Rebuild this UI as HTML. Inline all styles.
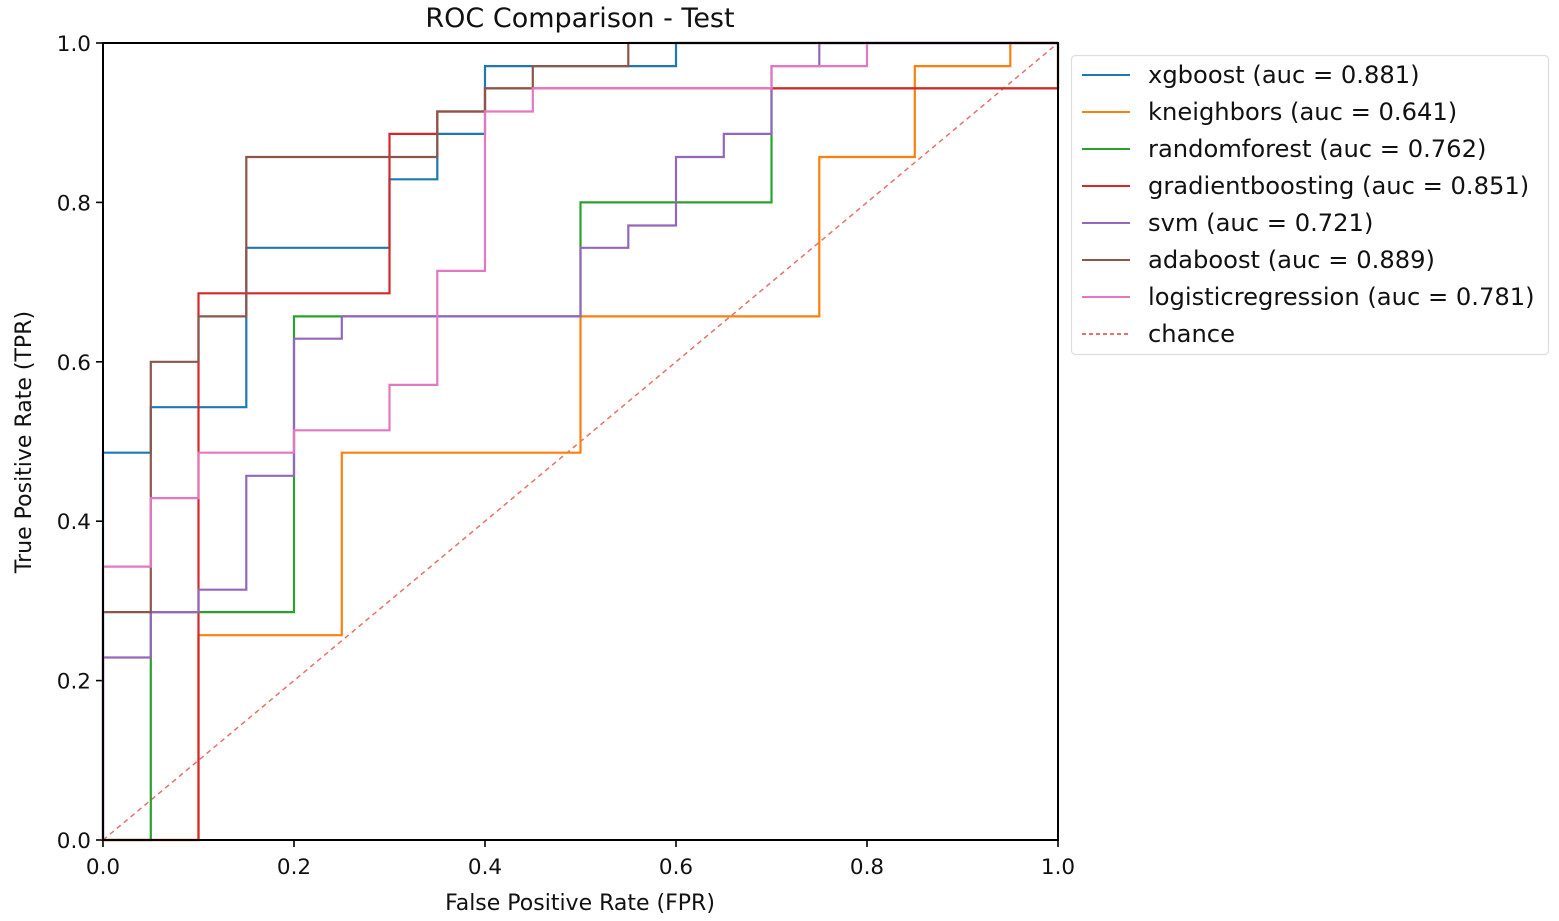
<!DOCTYPE html>
<html><head><meta charset="utf-8"><style>
html,body{margin:0;padding:0;background:#fff;}
svg{display:block;font-family:"DejaVu Sans","Liberation Sans",sans-serif;}
</style></head><body>
<svg id="chart" width="1559" height="921" viewBox="0 0 1559 921" xmlns="http://www.w3.org/2000/svg">
<text x="580" y="27" font-size="27" text-anchor="middle" fill="#111">ROC Comparison - Test</text>
<text x="580" y="910" font-size="22" text-anchor="middle" fill="#111">False Positive Rate (FPR)</text>
<text x="0" y="0" font-size="22" text-anchor="middle" fill="#111" transform="translate(31,442) rotate(-90)">True Positive Rate (TPR)</text>
<g id="plot"></g>
<g id="legend"></g>
</svg>
<script>
const seriesNames = ["xgboost","kneighbors","randomforest","gradientboosting","svm","adaboost","logisticregression"];
const seriesAuc = ["0.881","0.641","0.762","0.851","0.721","0.889","0.781"];
const seriesColors = ["#1f77b4","#ff7f0e","#2ca02c","#d62728","#9467bd","#8c564b","#e377c2"];
const xTicks = [0,0.2,0.4,0.6,0.8,1.0];
const yTicks = [0,0.2,0.4,0.6,0.8,1.0];
const xgbFpr = [0,0,0.05,0.05,0.15,0.15,0.3,0.3,0.35,0.35,0.4,0.4,0.6,0.6,1];
const xgbTpr = [0,0.486,0.486,0.543,0.543,0.743,0.743,0.829,0.829,0.886,0.886,0.971,0.971,1,1];
const knnFpr = [0,0.1,0.1,0.25,0.25,0.5,0.5,0.75,0.75,0.85,0.85,0.95,0.95,1];
const knnTpr = [0,0,0.257,0.257,0.486,0.486,0.657,0.657,0.857,0.857,0.971,0.971,1,1];
const rfFpr = [0,0.05,0.05,0.2,0.2,0.5,0.5,0.7,0.7,1,1];
const rfTpr = [0,0,0.286,0.286,0.657,0.657,0.8,0.8,0.943,0.943,1];
const gbFpr = [0,0.1,0.1,0.3,0.3,0.35,0.35,0.4,0.4,1,1];
const gbTpr = [0,0,0.686,0.686,0.886,0.886,0.914,0.914,0.943,0.943,1];
const svmFpr = [0,0,0.05,0.05,0.1,0.1,0.15,0.15,0.2,0.2,0.25,0.25,0.5,0.5,0.55,0.55,0.6,0.6,0.65,0.65,0.7,0.7,0.75,0.75,1];
const svmTpr = [0,0.229,0.229,0.286,0.286,0.314,0.314,0.457,0.457,0.629,0.629,0.657,0.657,0.743,0.743,0.771,0.771,0.857,0.857,0.886,0.886,0.971,0.971,1,1];
const adaFpr = [0,0,0.05,0.05,0.1,0.1,0.15,0.15,0.35,0.35,0.4,0.4,0.45,0.45,0.55,0.55,1];
const adaTpr = [0,0.286,0.286,0.6,0.6,0.657,0.657,0.857,0.857,0.914,0.914,0.943,0.943,0.971,0.971,1,1];
const lrFpr = [0,0,0.05,0.05,0.1,0.1,0.2,0.2,0.3,0.3,0.35,0.35,0.4,0.4,0.45,0.45,0.7,0.7,0.8,0.8,1];
const lrTpr = [0,0.343,0.343,0.429,0.429,0.486,0.486,0.514,0.514,0.571,0.571,0.714,0.714,0.914,0.914,0.943,0.943,0.971,0.971,1,1];
const allFpr = [xgbFpr,knnFpr,rfFpr,gbFpr,svmFpr,adaFpr,lrFpr];
const allTpr = [xgbTpr,knnTpr,rfTpr,gbTpr,svmTpr,adaTpr,lrTpr];

const NS = "http://www.w3.org/2000/svg";
const X0=103, X1=1058, Y0=840, Y1=43;
function xs(v){return X0+(X1-X0)*v;}
function ys(v){return Y0-(Y0-Y1)*v;}
function mk(tag,attrs,parent){const e=document.createElementNS(NS,tag);for(const k in attrs)e.setAttribute(k,attrs[k]);parent.appendChild(e);return e;}
const plot=document.getElementById('plot');

xTicks.forEach(t=>{
  const l=mk('line',{x1:xs(t),x2:xs(t),y1:Y0,y2:Y0+7,stroke:'#000','stroke-width':1.6},plot);
  
  
  const tx=mk('text',{x:xs(t),y:Y0+34,'font-size':21.5,'text-anchor':'middle',fill:'#111'},plot);
  tx.textContent=t.toFixed(1);
  
  
});
yTicks.forEach(t=>{
  const l=mk('line',{x1:X0-7,x2:X0,y1:ys(t),y2:ys(t),stroke:'#000','stroke-width':1.6},plot);
  
  
  const tx=mk('text',{x:X0-12,y:ys(t)+8,'font-size':21.5,'text-anchor':'end',fill:'#111'},plot);
  tx.textContent=t.toFixed(1);
  
  
});

const ch=mk('line',{x1:xs(0),y1:ys(0),x2:xs(1),y2:ys(1),stroke:'#e8706a','stroke-width':1.5,'stroke-dasharray':'5,4'},plot);



allFpr.forEach((f,i)=>{
  const pts=f.map((v,j)=>xs(v).toFixed(1)+','+ys(allTpr[i][j]).toFixed(1)).join(' ');
  const pl=mk('polyline',{points:pts,fill:'none',stroke:seriesColors[i],'stroke-width':2.2,'stroke-linejoin':'miter'},plot);
  
  
});

const fr=mk('rect',{x:X0,y:Y1,width:X1-X0,height:Y0-Y1,fill:'none',stroke:'#000','stroke-width':2},plot);



const lg=document.getElementById('legend');
mk('rect',{x:1071.5,y:55.5,width:477,height:299,rx:4,fill:'#fff',stroke:'#ddd','stroke-width':1.2},lg);
const labels=seriesNames.map((n,i)=>n+' (auc = '+seriesAuc[i]+')').concat(['chance']);
const lcolors=seriesColors.concat(['#e8706a']);
labels.forEach((lab,i)=>{
  const y=75+i*37;
  const ln=mk('line',{x1:1082,x2:1130,y1:y,y2:y,stroke:lcolors[i],'stroke-width':2},lg);
  if(i===7) ln.setAttribute('stroke-dasharray','4,3');
  
  
  const tx=mk('text',{x:1148,y:y+8,'font-size':24.2,fill:'#111'},lg);
  tx.textContent=lab;
  
  
});
</script>
</body></html>
